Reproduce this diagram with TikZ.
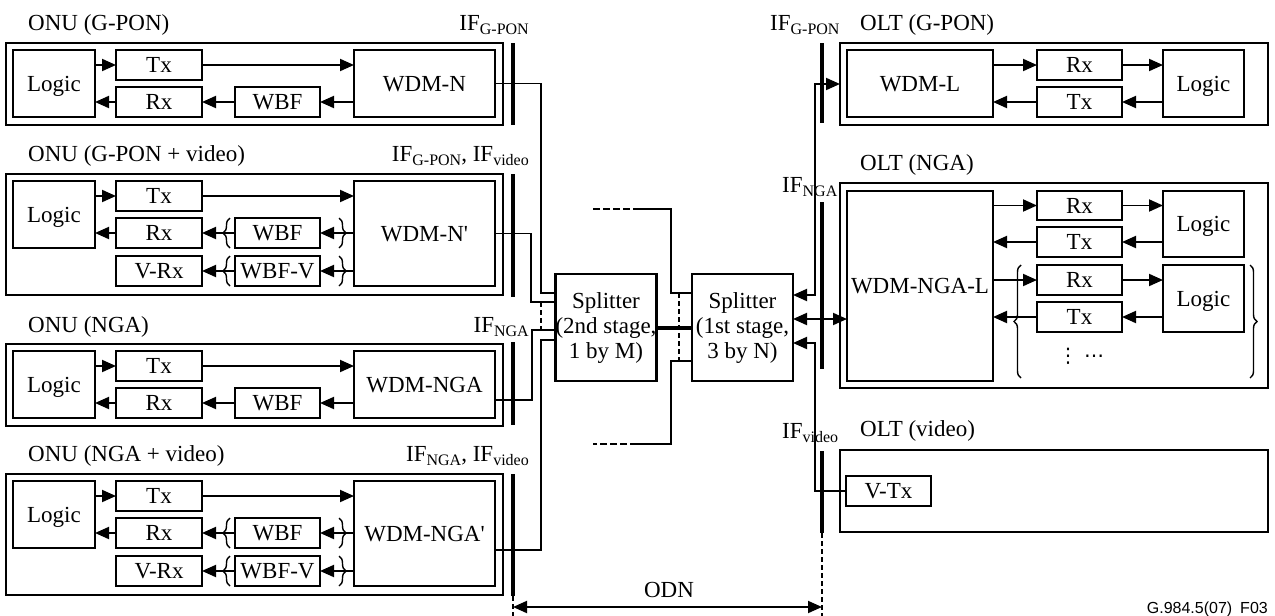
\documentclass[tikz,border=0pt]{standalone}
\usepackage{fontspec}
\setmainfont{Liberation Serif}
\newfontfamily\figsans{Liberation Sans}
\newfontfamily\dotsfont{DejaVu Sans}
\usetikzlibrary{arrows.meta,decorations.pathreplacing,calc}
\newcommand\lowsub[1]{\raisebox{-4pt}{\fontsize{16}{16}\selectfont #1}}
\newcommand\bx[6]{\node[box, minimum width={#4-#2}, minimum height={#5-#3}] (#1) at ({(#2+#4)/2},{(#3+#5)/2}) {#6};}
\newcommand\sx[6]{\node[boxbase, minimum width={#4-#2}, minimum height={#5-#3}] (#1) at ({(#2+#4)/2},{(#3+#5)/2}) {#6};}
\tikzset{
  boxbase/.style={draw, line width=2.4pt, inner sep=0pt, outer sep=0pt, align=center},
  box/.style={boxbase, text height=15.5pt, text depth=0pt},
  ttl/.style={inner sep=0pt, anchor=base west},
  lbl/.style={inner sep=0pt},
  wire/.style={line width=1.9pt},
  ifbar/.style={line width=3.5pt},
  dsh/.style={line width=2.8pt, dash pattern=on 5pt off 3pt},
  dshh/.style={line width=1.9pt, dash pattern=on 7pt off 3pt},
  tip/.tip={Triangle[length=14pt,width=12pt]},
  arr/.style={-tip},
  arrs/.style={tip-},
  arrb/.style={tip-tip},
  brc/.style={decorate, decoration={brace, amplitude=7pt}, line width=1.4pt}
}
\begin{document}
\begin{tikzpicture}[x=1pt,y=-1pt,font=\fontsize{23}{25}\selectfont]
\useasboundingbox (0,0) rectangle (1275,616);

% ---------- ONU (G-PON)
\node[ttl] (t1) at (28,30) {ONU (G-PON)};
\bx{f1}{6}{43}{503}{125}{}
\bx{lg1}{13}{50}{95}{117}{Logic}
\bx{tx1}{116}{50}{202}{80}{Tx}
\bx{rx1}{116}{87}{202}{117}{Rx}
\bx{wb1}{235}{87}{320}{117}{WBF}
\bx{wd1}{354}{50}{495}{117}{WDM-N}
\draw[wire,arr] (lg1.east |- tx1) -- (tx1.west);
\draw[wire,arr] (rx1.west) -- (lg1.east |- rx1);
\draw[wire,arr] (tx1.east) -- (wd1.west |- tx1);
\draw[wire,arr] (wd1.west |- wb1) -- (wb1.east);
\draw[wire,arr] (wb1.west) -- (rx1.east);

% ---------- ONU (G-PON + video)
\node[ttl] (t2) at (28,161) {ONU (G-PON + video)};
\bx{f2}{6}{174}{503}{295}{}
\bx{lg2}{13}{181}{95}{248}{Logic}
\bx{tx2}{116}{181}{202}{211}{Tx}
\bx{rx2}{116}{218}{202}{248}{Rx}
\bx{vr2}{116}{256}{202}{286}{V-Rx}
\bx{wb2}{235}{218}{320}{248}{WBF}
\bx{wv2}{235}{256}{320}{286}{WBF-V}
\bx{wd2}{354}{181}{495}{286}{WDM-N\textquotesingle}
\draw[wire,arr] (lg2.east |- tx2) -- (tx2.west);
\draw[wire,arr] (rx2.west) -- (lg2.east |- rx2);
\draw[wire,arr] (tx2.east) -- (wd2.west |- tx2);
\draw[wire,arr] (wd2.west |- wb2) -- (wb2.east);
\draw[wire,arr] (wb2.west) -- (rx2.east);
\draw[wire,arr] (wd2.west |- wv2) -- (wv2.east);
\draw[wire,arr] (wv2.west) -- (vr2.east);
\draw[brc] (230,248) -- (230,218);
\draw[brc] (230,286) -- (230,256);
\draw[brc] (339,218) -- (339,248);
\draw[brc] (339,256) -- (339,286);

% ---------- ONU (NGA)
\node[ttl] (t3) at (28,332) {ONU (NGA)};
\bx{f3}{6}{344}{503}{426}{}
\bx{lg3}{13}{351}{95}{418}{Logic}
\bx{tx3}{116}{351}{202}{381}{Tx}
\bx{rx3}{116}{388}{202}{418}{Rx}
\bx{wb3}{235}{388}{320}{418}{WBF}
\bx{wd3}{354}{351}{495}{418}{WDM-NGA}
\draw[wire,arr] (lg3.east |- tx3) -- (tx3.west);
\draw[wire,arr] (rx3.west) -- (lg3.east |- rx3);
\draw[wire,arr] (tx3.east) -- (wd3.west |- tx3);
\draw[wire,arr] (wd3.west |- wb3) -- (wb3.east);
\draw[wire,arr] (wb3.west) -- (rx3.east);

% ---------- ONU (NGA + video)
\node[ttl] (t4) at (28,461) {ONU (NGA + video)};
\bx{f4}{6}{474}{503}{595}{}
\bx{lg4}{13}{481}{95}{548}{Logic}
\bx{tx4}{116}{481}{202}{511}{Tx}
\bx{rx4}{116}{518}{202}{548}{Rx}
\bx{vr4}{116}{556}{202}{586}{V-Rx}
\bx{wb4}{235}{518}{320}{548}{WBF}
\bx{wv4}{235}{556}{320}{586}{WBF-V}
\bx{wd4}{354}{481}{495}{586}{WDM-NGA\textquotesingle}
\draw[wire,arr] (lg4.east |- tx4) -- (tx4.west);
\draw[wire,arr] (rx4.west) -- (lg4.east |- rx4);
\draw[wire,arr] (tx4.east) -- (wd4.west |- tx4);
\draw[wire,arr] (wd4.west |- wb4) -- (wb4.east);
\draw[wire,arr] (wb4.west) -- (rx4.east);
\draw[wire,arr] (wd4.west |- wv4) -- (wv4.east);
\draw[wire,arr] (wv4.west) -- (vr4.east);
\draw[brc] (230,548) -- (230,518);
\draw[brc] (230,586) -- (230,556);
\draw[brc] (339,518) -- (339,548);
\draw[brc] (339,556) -- (339,586);

% ---------- left interface labels and bars
\node[lbl, anchor=base east] (ifl1) at (529,30) {IF\lowsub{G-PON}};
\node[lbl, anchor=base east] (ifl2) at (529,161) {IF\lowsub{G-PON}, IF\lowsub{video}};
\node[lbl, anchor=base east] (ifl3) at (529,332) {IF\lowsub{NGA}};
\node[lbl, anchor=base east] (ifl4) at (529,461) {IF\lowsub{NGA}, IF\lowsub{video}};
\coordinate (ifLb) at (513,607);
\coordinate (ifRb) at (822,607);
\draw[ifbar] (513,43) -- (513,125);
\draw[ifbar] (513,174) -- (513,297);
\draw[ifbar] (513,342) -- (513,425);
\draw[ifbar] (513,474) -- (513,596);
\draw[dsh] (513,596) -- (513,616);

% ---------- splitters
\sx{sp2}{556}{274}{656}{381}{Splitter\\(2nd stage,\\1 by M)}
\sx{sp1}{692}{274}{793}{381}{Splitter\\(1st stage,\\3 by N)}
\draw[line width=4pt] (sp2.east) -- (sp1.west);

\draw[wire] (wd1.east) -| (541,293) -- (sp2.west |- 0,293);
\draw[wire] (wd2.east) -| (531,302) -- (sp2.west |- 0,302);
\draw[wire] (wd3.east |- 0,400) -| (532,330) -- (sp2.west |- 0,330);
\draw[wire] (wd4.east |- 0,550) -| (541,340) -- (sp2.west |- 0,340);
\draw[dsh] (541,302) -- (541,330);

\coordinate (stT) at (593,209);
\coordinate (stB) at (593,444);
\draw[dshh] (stT) -- (637,209);
\draw[wire] (637,209) -| (671,293) -- (sp1.west |- 0,293);
\draw[wire] (sp1.west |- 0,361) -| (671,444) -- (637,444);
\draw[dshh] (637,444) -- (stB);
\draw[dsh] (679,293) -- (679,361);

% ---------- right interface
\node[lbl, anchor=base west] (ifr1) at (770,30) {IF\lowsub{G-PON}};
\node[lbl, anchor=base west] (ifr2) at (782,192) {IF\lowsub{NGA}};
\node[lbl, anchor=base west] (ifr3) at (782,438) {IF\lowsub{video}};
\draw[ifbar] (822,43) -- (822,123);
\draw[ifbar] (822,202) -- (822,369);
\draw[ifbar] (822,451) -- (822,533);
\draw[dsh] (822,533) -- (822,616);

% ---------- OLT (G-PON)
\node[ttl] (t5) at (860,30) {OLT (G-PON)};
\bx{of1}{840}{43}{1268}{125}{}
\bx{wdl1}{847}{50}{993}{117}{WDM-L}
\bx{orx1}{1037}{50}{1122}{80}{Rx}
\bx{otx1}{1037}{87}{1122}{117}{Tx}
\bx{olg1}{1163}{50}{1244}{117}{Logic}
\draw[wire,arr] (wdl1.east |- orx1) -- (orx1.west);
\draw[wire,arr] (orx1.east) -- (olg1.west |- orx1);
\draw[wire,arr] (olg1.west |- otx1) -- (otx1.east);
\draw[wire,arr] (otx1.west) -- (wdl1.east |- otx1);

% ---------- OLT (NGA)
\node[ttl] (t6) at (860,170) {OLT (NGA)};
\bx{of2}{840}{183}{1268}{388}{}
\bx{wdl2}{847}{191}{993}{381}{WDM-NGA-L}
\bx{orx2}{1037}{191}{1122}{220}{Rx}
\bx{otx2}{1037}{227}{1122}{257}{Tx}
\bx{olg2}{1163}{191}{1244}{257}{Logic}
\bx{orx3}{1037}{265}{1122}{295}{Rx}
\bx{otx3}{1037}{302}{1122}{332}{Tx}
\bx{olg3}{1163}{265}{1244}{332}{Logic}
\draw[wire,arr] (wdl2.east |- orx2) -- (orx2.west);
\draw[wire,arr] (orx2.east) -- (olg2.west |- orx2);
\draw[wire,arr] (olg2.west |- otx2) -- (otx2.east);
\draw[wire,arr] (otx2.west) -- (wdl2.east |- otx2);
\draw[wire,arr] (wdl2.east |- orx3) -- (orx3.west);
\draw[wire,arr] (orx3.east) -- (olg3.west |- orx3);
\draw[wire,arr] (olg3.west |- otx3) -- (otx3.east);
\draw[wire,arr] (otx3.west) -- (wdl2.east |- otx3);
\draw[brc] (1021,378) -- (1021,265);
\draw[brc] (1250,265) -- (1250,378);
\node[lbl, font=\dotsfont\fontsize{20}{20}\selectfont] (vdots) at (1068,356) {⋮};
\node[lbl, font=\dotsfont\fontsize{20}{20}\selectfont] (hdots) at (1094,356) {…};

% ---------- OLT (video)
\node[ttl] (t7) at (860,436) {OLT (video)};
\bx{of3}{840}{450}{1268}{532}{}
\bx{vtx}{846}{476}{931}{506}{V-Tx}

% ---------- right connections
\draw[wire,arrb] (sp1.east |- 0,295) -| (815,84) -- (of1.west);
\draw[wire,arrb] (sp1.east |- 0,319) -- (wdl2.west |- 0,319);
\draw[wire,arrs] (sp1.east |- 0,343) -| (815,491) -- (vtx.west);

% ---------- ODN
\draw[wire,arrb] (ifLb) -- (ifRb);
\node[lbl, anchor=base] (odn) at (669,597) {ODN};
\node[lbl, anchor=base east, font=\figsans\fontsize{16}{16}\selectfont] (ftr) at (1268,613) {G.984.5(07)\hspace{0.5em}F03};
\end{tikzpicture}
\end{document}
